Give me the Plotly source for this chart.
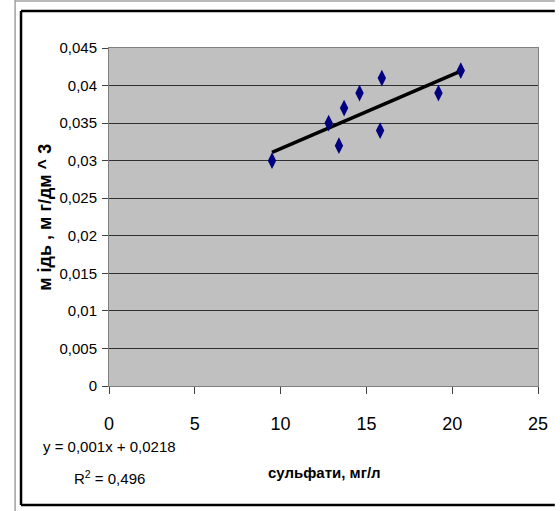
import numpy as np
import plotly.graph_objects as go

# data (sulfates, mg/l  vs  copper, mg/dm^3)
sulfates = [9.5, 12.8, 13.4, 13.7, 14.6, 15.9, 15.8, 19.2, 20.5]
copper = [0.030, 0.035, 0.032, 0.037, 0.039, 0.041, 0.034, 0.039, 0.042]

x_tickvals = [0, 5, 10, 15, 20, 25]
x_ticktext = ["0", "5", "10", "15", "20", "25"]
y_tickvals = [0, 0.005, 0.01, 0.015, 0.02, 0.025, 0.03, 0.035, 0.04, 0.045]
y_ticktext = ["0", "0,005", "0,01", "0,015", "0,02", "0,025", "0,03", "0,035", "0,04", "0,045"]

eq_text = "y = 0,001x + 0,0218"
r2_text = "R<sup>2</sup> = 0,496"
x_title = "<b>сульфати, мг/л</b>"
y_title = "<b>м ідь , м г/дм ^ 3</b>"

FONT = "Liberation Sans, Arial, sans-serif"

# linear trend
k, b = np.polyfit(sulfates, copper, 1)
tx = np.array([min(sulfates), max(sulfates)])
ty = k * tx + b

fig = go.Figure()
fig.add_trace(go.Scatter(x=list(tx), y=list(ty), mode="lines",
                         line=dict(color="black", width=3.5), hoverinfo="skip"))
fig.add_trace(go.Scatter(x=sulfates, y=copper, mode="markers",
                         marker=dict(symbol="diamond-tall", size=12, color="#000080",
                                     line=dict(width=0))))

W, H = 560, 511
L, R, T, B = 109, 17, 48, 125
pw, ph = W - L - R, H - T - B


def px(xp):
    return (xp - L) / pw


def py(yp):
    return (H - B - yp) / ph


black = dict(color="black", width=2.5)
gray = dict(color="#A0A0A0", width=1.5)

fig.update_layout(
    width=W, height=H,
    margin=dict(l=L, r=R, t=T, b=B),
    paper_bgcolor="white",
    plot_bgcolor="#C0C0C0",
    showlegend=False,
    separators=", ",
    font=dict(family=FONT, color="black", size=15),
    xaxis=dict(range=[0, 25], tickvals=x_tickvals, ticktext=x_ticktext,
               showgrid=False, zeroline=False, showline=True, linecolor="#808080",
               linewidth=1, mirror=True, ticks="outside", ticklen=7, tickcolor="#404040",
               tickfont=dict(family=FONT, size=18), ticklabelstandoff=14),
    yaxis=dict(range=[0, 0.045], tickvals=y_tickvals, ticktext=y_ticktext,
               showgrid=True, gridcolor="#303030", gridwidth=1, zeroline=False,
               showline=True, linecolor="#808080", linewidth=1, mirror=True,
               ticks="outside", ticklen=6, tickcolor="#404040",
               tickfont=dict(family=FONT, size=15), ticklabelstandoff=2),
    annotations=[
        dict(text=eq_text, x=px(109), y=py(446), xref="paper", yref="paper",
             showarrow=False, font=dict(family=FONT, size=15), xanchor="center", yanchor="middle"),
        dict(text=r2_text, x=px(109), y=py(477), xref="paper", yref="paper",
             showarrow=False, font=dict(family=FONT, size=15), xanchor="center", yanchor="middle"),
        dict(text=x_title, x=px(327), y=py(472), xref="paper", yref="paper",
             showarrow=False, font=dict(family=FONT, size=15), xanchor="center", yanchor="middle"),
        dict(text=y_title, x=px(44), y=py(217), xref="paper", yref="paper",
             showarrow=False, textangle=-90, font=dict(family=FONT, size=18),
             xanchor="center", yanchor="middle"),
    ],
    shapes=[
        dict(type="line", xref="paper", yref="paper", x0=px(14), x1=px(14), y0=py(0), y1=py(511), line=gray),
        dict(type="line", xref="paper", yref="paper", x0=px(14), x1=px(560), y0=py(1), y1=py(1), line=gray),
        dict(type="line", xref="paper", yref="paper", x0=px(20), x1=px(20), y0=py(11), y1=py(505), line=black),
        dict(type="line", xref="paper", yref="paper", x0=px(20), x1=px(560), y0=py(11), y1=py(11), line=black),
        dict(type="line", xref="paper", yref="paper", x0=px(20), x1=px(560), y0=py(505), y1=py(505), line=black),
    ],
)

fig.write_html("out.html")
